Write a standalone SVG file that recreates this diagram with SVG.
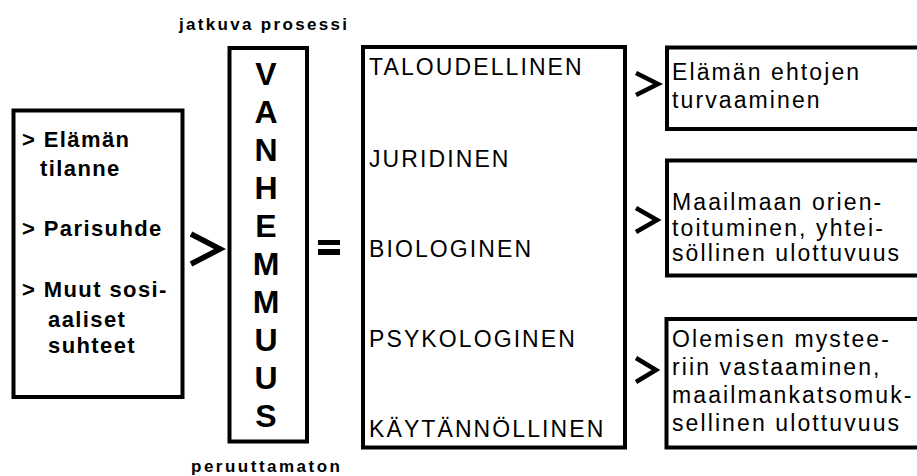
<svg xmlns="http://www.w3.org/2000/svg" width="917" height="476" viewBox="0 0 917 476">
  <style>
    .box { fill: #ffffff; stroke: #000000; stroke-width: 4; }
    .chev { fill: none; stroke: #000000; stroke-linejoin: miter; stroke-linecap: butt; }
    .txt { font-family: "Liberation Sans", Arial, sans-serif; font-size: 23px; fill: #000000; letter-spacing: 2.1px; }
    .left { font-family: "Liberation Sans", Arial, sans-serif; font-size: 22px; font-weight: bold; fill: #000000; letter-spacing: 1.4px; }
    .big { font-family: "Liberation Sans", Arial, sans-serif; font-size: 32px; font-weight: bold; fill: #000000; text-anchor: middle; }
    .cap { font-family: "Liberation Sans", Arial, sans-serif; font-size: 17px; font-weight: bold; fill: #000000; }
  </style>
  <rect width="917" height="476" fill="#ffffff"/>

  <!-- life situation factors -->
  <g id="factors">
    <rect class="box" x="13.5" y="110.5" width="169" height="286.5"/>
    <text class="left" x="22" y="147">&gt; Elämän</text>
    <text class="left" x="40" y="176">tilanne</text>
    <text class="left" x="22" y="236">&gt; Parisuhde</text>
    <text class="left" x="22" y="297">&gt; Muut sosi-</text>
    <text class="left" x="48" y="327">aaliset</text>
    <text class="left" x="48" y="353">suhteet</text>
  </g>

  <!-- ageing column -->
  <g id="vanhemmus">
    <text class="cap" x="179" y="30" textLength="168" lengthAdjust="spacing">jatkuva prosessi</text>
    <rect class="box" x="229.5" y="48" width="77.5" height="393.5"/>
    <text class="big" x="266" y="85">V</text>
    <text class="big" x="266" y="123">A</text>
    <text class="big" x="266" y="161">N</text>
    <text class="big" x="266" y="199">H</text>
    <text class="big" x="266" y="237">E</text>
    <text class="big" x="266" y="275">M</text>
    <text class="big" x="266" y="313">M</text>
    <text class="big" x="266" y="351">U</text>
    <text class="big" x="266" y="389">U</text>
    <text class="big" x="266" y="427">S</text>
    <text class="cap" x="191" y="472" textLength="149" lengthAdjust="spacing">peruuttamaton</text>
  </g>

  <!-- dimensions -->
  <g id="dimensions">
    <rect class="box" x="363" y="47" width="262" height="400.5"/>
    <text class="txt" x="369" y="75">TALOUDELLINEN</text>
    <text class="txt" x="369" y="167">JURIDINEN</text>
    <text class="txt" x="369" y="257">BIOLOGINEN</text>
    <text class="txt" x="369" y="347">PSYKOLOGINEN</text>
    <text class="txt" x="369" y="437">KÄYTÄNNÖLLINEN</text>
  </g>

  <!-- outcomes -->
  <g id="outcome-1">
    <rect class="box" x="667" y="47.5" width="260" height="81.5"/>
    <text class="txt" x="672" y="80">Elämän ehtojen</text>
    <text class="txt" x="672" y="108">turvaaminen</text>
  </g>
  <g id="outcome-2">
    <rect class="box" x="667" y="160.5" width="260" height="115"/>
    <text class="txt" x="672" y="210">Maailmaan orien-</text>
    <text class="txt" x="672" y="236">toituminen, yhtei-</text>
    <text class="txt" x="672" y="261">söllinen ulottuvuus</text>
  </g>
  <g id="outcome-3">
    <rect class="box" x="666.5" y="319" width="260" height="128.5"/>
    <text class="txt" x="672" y="347">Olemisen mystee-</text>
    <text class="txt" x="672" y="375">riin vastaaminen,</text>
    <text class="txt" x="672" y="403">maailmankatsomuk-</text>
    <text class="txt" x="672" y="431">sellinen ulottuvuus</text>
  </g>

  <!-- connectors -->
  <g id="connectors">
    <polyline class="chev" stroke-width="5.5" points="191,234 220,249 191,264"/>
    <rect x="318" y="240" width="22" height="5" fill="#000000"/>
    <rect x="318" y="249" width="22" height="6" fill="#000000"/>
    <polyline class="chev" stroke-width="4.5" points="636,73 658,84 636,95"/>
    <polyline class="chev" stroke-width="4.5" points="636,208 657,220 636,232"/>
    <polyline class="chev" stroke-width="4.5" points="636,358 656,370 636,382"/>
  </g>
</svg>
